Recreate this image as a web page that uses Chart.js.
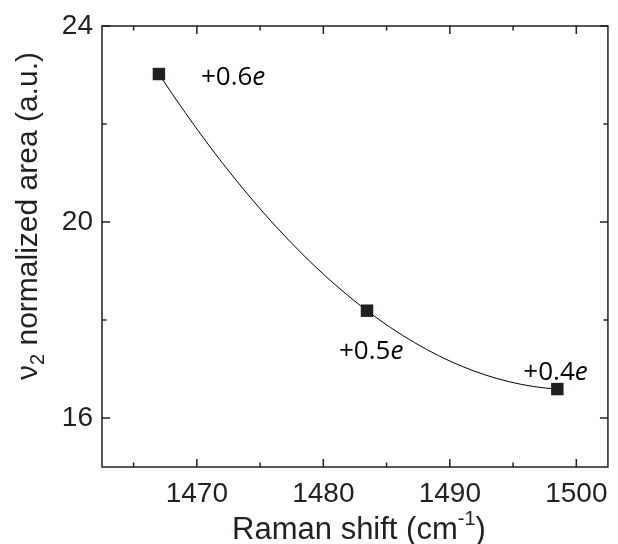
<!DOCTYPE html>
<html>
<head>
<meta charset="utf-8">
<script src="https://cdn.jsdelivr.net/npm/chart.js"></script>
<style>
  html, body { margin: 0; padding: 0; background: #fff; }
</style>
</head>
<body>
<canvas id="grafico" width="618" height="544"></canvas>
<script>
  // dados
  const ramanShift = [1467.0, 1483.45, 1498.5];
  const areaNorm = [23.02, 18.19, 16.59];
  const cargas = ['+0.6', '+0.5', '+0.4'];
  const xMajor = [1470, 1480, 1490, 1500];
  const xMinor = [1465, 1475, 1485, 1495];
  const yMajor = [16, 20, 24];
  const yMinor = [18, 22];

  // deslocamento (px) de cada rótulo em relação ao ponto
  const offsetsRotulo = [[42, 11], [-28, 48], [-34, -9]];

  const corEixo = '#231f20';
  const fonteEixo = "'Liberation Sans', Arial, sans-serif";

  const ctx = document.getElementById("grafico").getContext("2d");

  // curva suave: tangentes da parábola que passa pelos três pontos
  const curvaPlugin = {
    id: 'curva',
    beforeDatasetDraw(chart, args) {
      const meta = args.meta;
      meta.dataset.updateControlPoints(chart.chartArea, 'x');
      const pts = meta.data;
      const [p0, p1, p2] = pts;
      const s01 = (p1.y - p0.y) / (p1.x - p0.x);
      const s12 = (p2.y - p1.y) / (p2.x - p1.x);
      const k = (s12 - s01) / (p2.x - p0.x);
      const incl = x => s01 + k * ((x - p0.x) + (x - p1.x));
      pts.forEach((p, i) => {
        const m = incl(p.x);
        if (i > 0) {
          const dx = (p.x - pts[i - 1].x) / 3;
          p.cp1x = p.x - dx; p.cp1y = p.y - dx * m;
        }
        if (i < pts.length - 1) {
          const dx = (pts[i + 1].x - p.x) / 3;
          p.cp2x = p.x + dx; p.cp2y = p.y + dx * m;
        }
      });
    }
  };

  const molduraPlugin = {
    id: 'moldura',
    afterDraw(chart) {
      const c = chart.ctx;
      const a = chart.chartArea;
      const sx = chart.scales.x;
      const sy = chart.scales.y;
      c.save();
      c.strokeStyle = corEixo;
      c.lineWidth = 1.5;
      c.strokeRect(a.left, a.top, a.right - a.left, a.bottom - a.top);

      // ticks para dentro, nos quatro lados
      const tickX = (vals, len) => {
        vals.forEach(v => {
          const px = sx.getPixelForValue(v);
          c.beginPath();
          c.moveTo(px, a.bottom); c.lineTo(px, a.bottom - len);
          c.moveTo(px, a.top); c.lineTo(px, a.top + len);
          c.stroke();
        });
      };
      const tickY = (vals, len) => {
        vals.forEach(v => {
          const py = sy.getPixelForValue(v);
          c.beginPath();
          c.moveTo(a.left, py); c.lineTo(a.left + len, py);
          c.moveTo(a.right, py); c.lineTo(a.right - len, py);
          c.stroke();
        });
      };
      tickX(xMajor, 8); tickX(xMinor, 4.5);
      tickY(yMajor, 8); tickY(yMinor, 4.5);

      // rótulos de carga
      c.fillStyle = '#000';
      c.textBaseline = 'alphabetic';
      c.textAlign = 'left';
      ramanShift.forEach((x, i) => {
        const px = sx.getPixelForValue(x) + offsetsRotulo[i][0];
        const py = sy.getPixelForValue(areaNorm[i]) + offsetsRotulo[i][1];
        c.font = "26px 'Open Sans', sans-serif";
        c.fillText(cargas[i], px, py);
        const w = c.measureText(cargas[i]).width;
        c.font = "italic 26px 'Open Sans', sans-serif";
        c.fillText('e', px + w, py);
      });

      // título do eixo x
      c.fillStyle = corEixo;
      const cx = (a.left + a.right) / 2 + 4;
      const t1 = 'Raman shift (cm', t2 = '-1', t3 = ')';
      c.font = "31px " + fonteEixo;
      const w1 = c.measureText(t1).width, w3 = c.measureText(t3).width;
      c.font = "20px " + fonteEixo;
      const w2 = c.measureText(t2).width;
      const x0 = cx - (w1 + w2 + w3) / 2;
      c.font = "31px " + fonteEixo;
      c.fillText(t1, x0, 539);
      c.font = "20px " + fonteEixo;
      c.fillText(t2, x0 + w1, 525);
      c.font = "31px " + fonteEixo;
      c.fillText(t3, x0 + w1 + w2, 539);

      // título do eixo y
      c.translate(37, 216);
      c.rotate(-Math.PI / 2);
      const s1 = 'ν', s2 = '2', s3 = ' normalized area (a.u.)';
      c.font = "30px " + fonteEixo;
      const v1 = c.measureText(s1).width, v3 = c.measureText(s3).width;
      c.font = "20px " + fonteEixo;
      const v2 = c.measureText(s2).width;
      const y0 = -(v1 + v2 + v3) / 2;
      c.font = "30px " + fonteEixo;
      c.fillText(s1, y0, 0);
      c.font = "20px " + fonteEixo;
      c.fillText(s2, y0 + v1, 7);
      c.font = "30px " + fonteEixo;
      c.fillText(s3, y0 + v1 + v2, 0);
      c.restore();
    }
  };

  const chart = new Chart(ctx, {
    type: 'line',
    data: {
      datasets: [{
        data: ramanShift.map((x, i) => ({ x: x, y: areaNorm[i] })),
        borderColor: '#000',
        borderWidth: 1,
        tension: 0.4,
        fill: false,
        pointStyle: 'rect',
        pointRadius: 8.8,
        pointBackgroundColor: corEixo,
        pointBorderWidth: 0
      }]
    },
    options: {
      responsive: false,
      animation: false,
      devicePixelRatio: 1,
      layout: { padding: { top: 26, right: 3, left: 0, bottom: 0 } },
      scales: {
        x: {
          type: 'linear',
          min: 1462.5,
          max: 1502.5,
          grid: { display: false, drawTicks: false },
          border: { display: false },
          ticks: {
            color: corEixo, padding: 10, maxRotation: 0,
            font: { size: 28, family: fonteEixo },
            callback: v => String(v)
          },
          afterBuildTicks: s => { s.ticks = xMajor.map(v => ({ value: v })); },
          afterFit: s => { s.height = 77; }
        },
        y: {
          min: 15,
          max: 24,
          grid: { display: false, drawTicks: false },
          border: { display: false },
          ticks: {
            color: corEixo, padding: 9,
            font: { size: 28, family: fonteEixo },
            callback: v => String(v)
          },
          afterBuildTicks: s => { s.ticks = yMajor.map(v => ({ value: v })); },
          afterFit: s => { s.width = 102; }
        }
      },
      plugins: {
        legend: { display: false },
        tooltip: { enabled: false }
      }
    },
    plugins: [curvaPlugin, molduraPlugin]
  });
</script>
</body>
</html>
